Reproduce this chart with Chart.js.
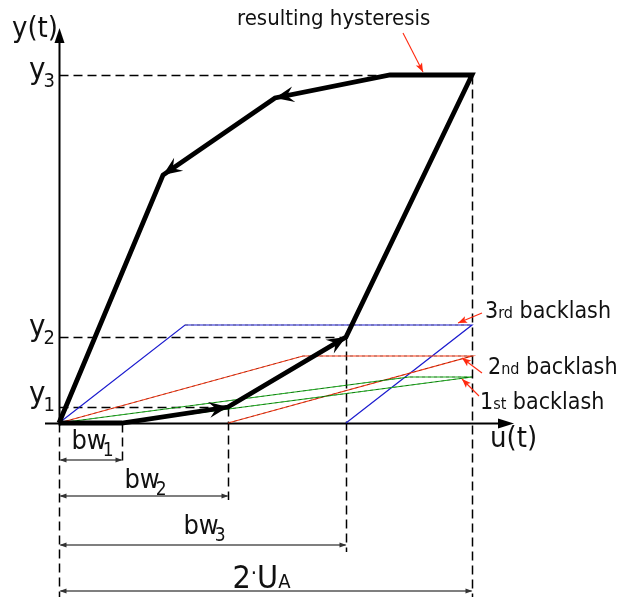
<!DOCTYPE html>
<html>
<head>
<meta charset="utf-8">
<script src="https://cdn.jsdelivr.net/npm/chart.js@4.4.1/dist/chart.umd.min.js"></script>
<style>
  html, body { margin: 0; padding: 0; background: #fff; }
  canvas { display: block; }
</style>
</head>
<body>
<canvas id="hystChart" width="629" height="600"></canvas>
<script>
// backlash widths bw1..bw3 and the input span 2*U_A (u units)
const bwWidths = [63, 169, 287];
const inputSpan = 413;
// output level reached by the 1st, 2nd, 3rd backlash
const backlashLevels = [46, 67, 98];
const backlashNames = ['1st', '2nd', '3rd'];
// marked output levels y1, y2, y3
const yMarks = [16, 86, 348];
// resulting hysteresis loop: rising branch then falling branch
const loopU = [0, 63, 169, 287, 413, 331, 216, 104, 0];
const loopY = [0, 0, 16, 86, 348, 348, 325, 248, 0];

const backlashColors = ['#19b019', '#ff3a14', '#1c1ccf'];
const FONT = '"DejaVu Sans Condensed", "DejaVu Sans", sans-serif';

function backlashPoints(i) {
    const bw = bwWidths[i];
    const h = backlashLevels[i];
    return [
        { x: 0, y: 0 },
        { x: inputSpan - bw, y: h },
        { x: inputSpan, y: h },
        { x: bw, y: 0 }
    ];
}

function lineSet(points, color, width, dash, order) {
    return {
        data: points,
        showLine: true,
        borderColor: color,
        borderWidth: width,
        borderDash: dash || [],
        pointRadius: 0,
        fill: false,
        tension: 0,
        clip: false,
        order: order
    };
}

const datasets = [];
// hysteresis on top
datasets.push(lineSet(loopU.map((u, i) => ({ x: u, y: loopY[i] })), '#000', 4.8, null, 0));
backlashLevels.forEach((h, i) => {
    const pts = backlashPoints(i);
    datasets.push(lineSet(pts, backlashColors[i], 1.2, null, 3));
    // thin dashed black overlay
    const overlay = i === 2 ? pts.slice(1, 3) : pts;
    datasets.push(lineSet(overlay, 'rgba(0,0,0,0.45)', 0.8, [3, 3], 2));
});

function arrowHead(ctx, x, y, angle, len, half, notch) {
    ctx.save();
    ctx.translate(x, y);
    ctx.rotate(angle);
    ctx.beginPath();
    ctx.moveTo(0, 0);
    ctx.lineTo(-len, -half);
    ctx.lineTo(-len + notch, 0);
    ctx.lineTo(-len, half);
    ctx.closePath();
    ctx.fill();
    ctx.restore();
}

function line(ctx, x1, y1, x2, y2) {
    ctx.beginPath();
    ctx.moveTo(x1, y1);
    ctx.lineTo(x2, y2);
    ctx.stroke();
}

function pointer(ctx, x1, y1, x2, y2) {
    ctx.strokeStyle = '#ff2a10';
    ctx.fillStyle = '#ff2a10';
    ctx.lineWidth = 1.1;
    line(ctx, x1, y1, x2, y2);
    arrowHead(ctx, x2, y2, Math.atan2(y2 - y1, x2 - x1), 9, 3.5, 2);
}

// text with a subscript (or a smaller suffix)
function subText(ctx, main, sub, x, y, size, subSize, drop, gap, align) {
    ctx.font = size + 'px ' + FONT;
    const w1 = ctx.measureText(main).width;
    ctx.font = subSize + 'px ' + FONT;
    const w2 = ctx.measureText(sub).width;
    let x0 = x;
    if (align === 'center') x0 = x - (w1 + gap + w2) / 2;
    if (align === 'right') x0 = x - (w1 + gap + w2);
    ctx.textAlign = 'left';
    ctx.textBaseline = 'alphabetic';
    ctx.font = size + 'px ' + FONT;
    ctx.fillText(main, x0, y);
    ctx.font = subSize + 'px ' + FONT;
    ctx.fillText(sub, x0 + w1 + gap, y + drop);
    return x0 + w1 + gap + w2;
}

const diagramPlugin = {
    id: 'diagram',
    beforeDatasetsDraw(chart) {
        const ctx = chart.ctx;
        const xs = chart.scales.x, ys = chart.scales.y;
        const px = v => Math.round(xs.getPixelForValue(v)) + 0.5;
        const py = v => Math.round(ys.getPixelForValue(v)) + 0.5;
        const x0 = px(0), y0 = py(0);
        const marksX = [bwWidths[1], bwWidths[2], inputSpan];

        ctx.save();
        ctx.strokeStyle = '#000';
        ctx.lineWidth = 1.5;
        ctx.setLineDash([9, 5]);
        // horizontal guides y1, y2, y3
        yMarks.forEach((v, i) => line(ctx, x0, py(v), px(marksX[i]), py(v)));
        // vertical guides down to the dimension rows
        const dimRows = [460, 496, 545, 591];
        line(ctx, x0, y0, x0, 597);
        line(ctx, px(bwWidths[0]), y0, px(bwWidths[0]), dimRows[0] + 3);
        line(ctx, px(bwWidths[1]), py(yMarks[0]), px(bwWidths[1]), dimRows[1] + 4);
        line(ctx, px(bwWidths[2]), py(yMarks[1]), px(bwWidths[2]), dimRows[2] + 7);
        line(ctx, px(inputSpan), py(yMarks[2]), px(inputSpan), 597);
        ctx.setLineDash([]);

        // dimension arrows
        ctx.strokeStyle = '#555';
        ctx.fillStyle = '#333';
        ctx.lineWidth = 1.4;
        const ends = [bwWidths[0], bwWidths[1], bwWidths[2], inputSpan];
        ends.forEach((v, i) => {
            const yy = dimRows[i];
            line(ctx, x0 + 1, yy, px(v) - 1, yy);
            arrowHead(ctx, x0, yy, Math.PI, 7, 2.6, 0);
            arrowHead(ctx, px(v), yy, 0, 7, 2.6, 0);
        });

        // axes
        ctx.strokeStyle = '#000';
        ctx.fillStyle = '#000';
        ctx.lineWidth = 2;
        line(ctx, x0, y0 + 2, x0, 40);
        line(ctx, 45, y0, 500, y0);
        arrowHead(ctx, x0, 28, -Math.PI / 2, 15, 5, 0);
        arrowHead(ctx, 514, y0, 0, 16, 5, 0);
        ctx.restore();
    },
    afterDatasetsDraw(chart) {
        const ctx = chart.ctx;
        const xs = chart.scales.x, ys = chart.scales.y;
        const px = v => xs.getPixelForValue(v);
        const py = v => ys.getPixelForValue(v);
        ctx.save();
        ctx.fillStyle = '#000';

        // direction arrows on the loop
        [2, 3, 6, 7].forEach(i => {
            const xa = px(loopU[i - 1]), ya = py(loopY[i - 1]);
            const xb = px(loopU[i]), yb = py(loopY[i]);
            arrowHead(ctx, xb, yb, Math.atan2(yb - ya, xb - xa), 19, 8, 7);
        });

        // axis titles
        ctx.fillStyle = '#111';
        ctx.font = '29px ' + FONT;
        ctx.textAlign = 'left';
        ctx.textBaseline = 'alphabetic';
        ctx.fillText('y(t)', 12, 37);
        ctx.font = '29px ' + FONT;
        ctx.fillText('u(t)', 490, 447);

        // y level labels
        const yOff = [[-4, 4], [-1, 7], [4, 12]];
        yMarks.forEach((v, i) => {
            const yy = py(v);
            subText(ctx, 'y', String(i + 1), 55, yy + yOff[i][0], 31, 20, 8, -2, 'right');
        });

        // dimension labels
        const dimLabelY = [449, 488, 534];
        bwWidths.forEach((v, i) => {
            const cx = (px(0) + px(v)) / 2;
            subText(ctx, 'bw', String(i + 1), cx + 2, dimLabelY[i], 27, 19, 7, -4, 'center');
        });
        const cx = (px(0) + px(inputSpan)) / 2;
        ctx.font = '32px ' + FONT;
        const w2 = ctx.measureText('2').width;
        ctx.font = '22px ' + FONT;
        const wd = ctx.measureText('·').width;
        ctx.font = '32px ' + FONT;
        const wu = ctx.measureText('U').width;
        ctx.font = '20px ' + FONT;
        const wa = ctx.measureText('A').width;
        let xx = cx - (w2 + wd + wu + wa) / 2 - 4;
        ctx.font = '32px ' + FONT;
        ctx.fillText('2', xx, 588);
        xx += w2;
        ctx.font = '22px ' + FONT;
        ctx.fillText('·', xx, 580);
        xx += wd;
        ctx.font = '32px ' + FONT;
        ctx.fillText('U', xx, 588);
        xx += wu;
        ctx.font = '20px ' + FONT;
        ctx.fillText('A', xx, 588);

        // annotations
        ctx.font = '22px ' + FONT;
        ctx.fillText('resulting hysteresis', 237, 25);
        const labelPos = [[480, 409], [488, 374], [485, 318]];
        const suffix = ['st', 'nd', 'rd'];
        backlashNames.forEach((n, i) => {
            const [lx, ly] = labelPos[i];
            const end = subText(ctx, n.charAt(0), suffix[i], lx, ly, 23, 16, 0, 0, 'left');
            ctx.font = '23px ' + FONT;
            ctx.fillText(' backlash', end, ly);
        });

        // red pointers
        pointer(ctx, 403, 33, 423, 72);
        pointer(ctx, 482, 313, px(inputSpan) - 14, py(backlashLevels[2]) - 2);
        pointer(ctx, 482, 373, px(inputSpan) - 10, py(backlashLevels[1]) + 2);
        pointer(ctx, 479, 396, px(inputSpan) - 10, py(backlashLevels[0]) + 2);
        ctx.restore();
    }
};

new Chart(document.getElementById('hystChart'), {
    type: 'scatter',
    data: { datasets: datasets },
    options: {
        responsive: false,
        animation: false,
        events: [],
        layout: { padding: 0 },
        plugins: {
            legend: { display: false },
            tooltip: { enabled: false }
        },
        scales: {
            x: { type: 'linear', display: false, min: -59, max: 570 },
            y: { type: 'linear', display: false, min: -177, max: 423 }
        }
    },
    plugins: [diagramPlugin]
});
</script>
</body>
</html>
